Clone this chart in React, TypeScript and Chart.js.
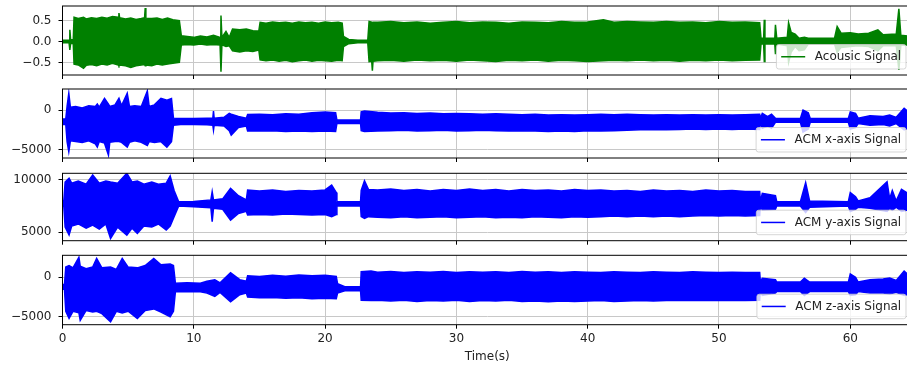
import React, { useEffect, useRef } from 'react';
import { Chart, registerables } from 'chart.js';

Chart.register(...registerables);

const FONT = "'DejaVu Sans', sans-serif";
const TEXT_COLOR = '#222222';
const GRID_COLOR = '#c8c8c8';
const CANVAS_W = 913;
const X_MAX = 64.7;
const X_TICKS = [0, 10, 20, 30, 40, 50, 60];

// ---------- Tick labels per panel ----------
const AC_Y_TICKS = [-0.5, 0, 0.5];
const AX_Y_TICKS = [-5000, 0];
const AY_Y_TICKS = [5000, 10000];
const AZ_Y_TICKS = [-5000, 0];

// ---------- Acoustic signal envelope (time s, upper, lower) ----------
const AC_T = [0, 0.5, 0.56, 0.62, 0.82, 0.88, 1.2, 1.6, 1.8, 2.2, 2.6, 3.0, 3.4, 3.8, 4.25, 4.3, 4.35, 4.8, 5.2, 5.6, 6.0, 6.25, 6.3, 6.35, 6.8, 7.2, 7.6, 8.0, 8.4, 8.9, 9.05, 9.5, 10.0, 10.5, 11.0, 11.5, 12.0, 12.07, 12.14, 12.45, 12.7, 12.95, 13.5, 14.0, 14.5, 14.95, 15.05, 15.5, 16, 16.5, 17, 17.5, 18, 18.5, 19, 19.5, 20, 20.5, 21, 21.3, 21.4, 21.8, 22.5, 23.25, 23.35, 23.55, 23.6, 23.65, 24, 25, 26, 27, 28, 29, 30, 31, 32, 33, 34, 35, 36, 37, 38, 39, 40, 41.2, 42, 43, 44, 45, 46, 47, 48, 49, 50, 51, 52, 53.1, 53.2, 53.4, 53.45, 53.5, 54.25, 54.3, 54.4, 55.2, 55.3, 55.5, 55.8, 56.1, 56.5, 56.8, 58.8, 59.0, 59.3, 60.0, 60.6, 61.4, 62.1, 62.5, 63.5, 63.7, 63.85, 64.7];
const AC_HI = [0.03, 0.03, 0.28, 0.04, 0.04, 0.58, 0.55, 0.58, 0.54, 0.57, 0.55, 0.58, 0.56, 0.6, 0.58, 0.68, 0.57, 0.54, 0.56, 0.53, 0.55, 0.57, 0.8, 0.56, 0.55, 0.56, 0.53, 0.56, 0.52, 0.5, 0.14, 0.12, 0.1, 0.13, 0.11, 0.15, 0.1, 0.62, 0.1, 0.24, 0.1, 0.3, 0.28, 0.3, 0.26, 0.25, 0.46, 0.44, 0.47, 0.45, 0.46, 0.44, 0.47, 0.45, 0.46, 0.44, 0.47, 0.45, 0.46, 0.44, 0.12, 0.05, 0.03, 0.03, 0.48, 0.46, 0.45, 0.46, 0.46, 0.48, 0.45, 0.47, 0.44, 0.46, 0.48, 0.45, 0.47, 0.46, 0.44, 0.47, 0.46, 0.45, 0.48, 0.46, 0.47, 0.52, 0.46, 0.48, 0.47, 0.46, 0.48, 0.46, 0.47, 0.45, 0.48, 0.46, 0.47, 0.45, 0.08, 0.08, 0.52, 0.08, 0.08, 0.4, 0.08, 0.1, 0.45, 0.22, 0.18, 0.08, 0.1, 0.08, 0.08, 0.36, 0.2, 0.21, 0.18, 0.2, 0.28, 0.16, 0.18, 0.78, 0.15, 0.12];
const AC_LO = [-0.03, -0.03, -0.2, -0.04, -0.05, -0.54, -0.56, -0.64, -0.57, -0.55, -0.58, -0.54, -0.56, -0.52, -0.56, -0.58, -0.56, -0.58, -0.62, -0.58, -0.56, -0.55, -0.58, -0.56, -0.58, -0.54, -0.56, -0.54, -0.52, -0.5, -0.08, -0.07, -0.08, -0.06, -0.08, -0.07, -0.08, -0.72, -0.08, -0.12, -0.1, -0.22, -0.25, -0.22, -0.24, -0.2, -0.44, -0.46, -0.44, -0.47, -0.45, -0.48, -0.46, -0.44, -0.47, -0.45, -0.46, -0.47, -0.45, -0.46, -0.12, -0.05, -0.03, -0.03, -0.48, -0.47, -0.7, -0.47, -0.46, -0.45, -0.47, -0.44, -0.46, -0.45, -0.47, -0.44, -0.46, -0.48, -0.45, -0.46, -0.44, -0.47, -0.45, -0.46, -0.48, -0.46, -0.45, -0.46, -0.44, -0.46, -0.45, -0.47, -0.45, -0.46, -0.44, -0.46, -0.45, -0.44, -0.06, -0.06, -0.48, -0.06, -0.06, -0.3, -0.06, -0.1, -0.5, -0.25, -0.12, -0.22, -0.2, -0.06, -0.06, -0.26, -0.14, -0.12, -0.1, -0.12, -0.22, -0.1, -0.1, -0.68, -0.08, -0.08];

// ---------- ACM x-axis envelope ----------
const AX_T = [0, 0.25, 0.35, 0.48, 0.6, 1.0, 1.5, 2.0, 2.5, 2.65, 2.8, 3.2, 3.5, 3.6, 4.0, 4.3, 4.5, 4.93, 5.1, 5.5, 6.0, 6.46, 6.6, 7.0, 7.5, 7.95, 8.3, 8.45, 9.0, 10.0, 11.0, 11.45, 11.5, 11.55, 12.3, 12.7, 12.85, 13.4, 14.0, 14.1, 15, 16, 17, 18, 19, 20, 20.8, 20.9, 22.7, 22.75, 23.0, 24, 25, 26, 27, 28, 29, 30, 31, 32, 33, 34, 35, 36, 37, 38, 39, 40, 41, 42, 43, 44, 45, 46, 47, 48, 49, 50, 51, 52, 53.1, 53.15, 53.3, 53.7, 54.0, 54.3, 56.2, 56.4, 56.8, 56.95, 59.85, 60.0, 60.4, 60.6, 61.5, 62.5, 63.0, 63.5, 64.1, 64.5, 64.7];
const AX_HI = [-1100, -1100, 500, 2180, 400, 500, 300, 600, 500, 800, 400, 1540, 800, 500, 700, 1540, 600, 2180, 500, 600, 500, 2470, 500, 700, 1540, 1300, 1500, -1000, -1050, -1050, -1000, -1000, -90, -1000, -900, -390, -500, -800, -1000, -520, -500, -550, -450, -500, -300, -200, -300, -1240, -1240, -200, -90, -250, -350, -300, -400, -350, -450, -400, -450, -500, -450, -500, -550, -500, -600, -550, -600, -550, -500, -550, -500, -550, -600, -550, -600, -550, -600, -550, -600, -550, -500, -1030, -400, -800, -500, -1030, -1030, 40, -300, -1030, -1030, -200, -400, -1000, -700, -800, -600, -900, 260, -300, -400];
const AX_LO = [-1800, -1800, -4000, -5300, -3900, -4000, -4100, -3900, -4300, -4700, -4000, -4200, -5730, -4100, -4000, -4000, -4100, -4700, -4100, -3900, -4100, -4500, -4000, -4100, -4000, -4700, -4000, -1900, -1800, -1800, -1850, -1900, -2530, -1900, -2000, -2600, -3170, -2200, -2000, -2650, -2650, -2600, -2700, -2650, -2700, -2650, -2700, -1670, -1670, -2600, -2700, -2650, -2600, -2550, -2650, -2600, -2550, -2650, -2600, -2550, -2600, -2650, -2600, -2650, -2700, -2650, -2700, -2600, -2650, -2600, -2550, -2500, -2450, -2500, -2450, -2400, -2450, -2400, -2450, -2400, -2450, -1540, -2300, -2000, -2300, -1540, -1540, -2800, -2400, -1540, -1540, -2400, -2200, -1700, -1900, -1800, -2000, -1700, -2500, -2200, -2100];

// ---------- ACM y-axis envelope ----------
const AY_T = [0, 0.1, 0.2, 0.5, 0.7, 1.2, 1.8, 2.3, 2.8, 3.3, 3.66, 4.2, 4.9, 5.3, 5.7, 6.2, 6.8, 7.3, 7.9, 8.2, 8.5, 8.85, 10.0, 11.3, 11.4, 11.5, 12.2, 12.8, 13.4, 14.0, 14.1, 15, 16, 17, 18, 19, 20, 20.5, 20.85, 20.9, 22.7, 22.75, 23.0, 23.3, 24, 25, 26, 27, 28, 29, 30, 31, 32, 33, 34, 35, 36, 37, 38, 39, 40, 41, 42, 43, 44, 45, 46, 47, 48, 49, 50, 51, 52, 53.1, 53.15, 53.3, 54.3, 54.4, 56.2, 56.6, 56.9, 59.85, 60.0, 60.4, 60.6, 61.5, 62.8, 63.0, 63.2, 63.5, 63.9, 64.3, 64.7];
const AY_HI = [8000, 8000, 9800, 10160, 9700, 9900, 9600, 10480, 9700, 9900, 9800, 9700, 10640, 9800, 9900, 9600, 9800, 9600, 9700, 10380, 9000, 7930, 7950, 8100, 8880, 8100, 8200, 9200, 8500, 8100, 9040, 8950, 9050, 8900, 9000, 8950, 9050, 9520, 8800, 7930, 7930, 9000, 9930, 9100, 9050, 9150, 9000, 9100, 8950, 9100, 9000, 9150, 9000, 9100, 8950, 9100, 9000, 9050, 8950, 9100, 9000, 9050, 8950, 9000, 8900, 9050, 8950, 9000, 8900, 9050, 8950, 9000, 8900, 8900, 7930, 8730, 8500, 7930, 7930, 9740, 8000, 7930, 8800, 8400, 8000, 8300, 9840, 8200, 9000, 8000, 9100, 8800, 8500];
const AY_LO = [7500, 7500, 5500, 4740, 5600, 5800, 5400, 5700, 5300, 5800, 4420, 5500, 4740, 5400, 4900, 5600, 5500, 5800, 5220, 5600, 6500, 7510, 7450, 7350, 6010, 7300, 7200, 6170, 6800, 7000, 6650, 6700, 6650, 6750, 6700, 6650, 6700, 6500, 6700, 7510, 7510, 6500, 6340, 6500, 6450, 6400, 6500, 6400, 6450, 6500, 6400, 6450, 6500, 6400, 6450, 6400, 6500, 6450, 6400, 6500, 6450, 6500, 6550, 6500, 6550, 6500, 6550, 6500, 6550, 6600, 6550, 6600, 6550, 6600, 7510, 7130, 7200, 7510, 7510, 6900, 7400, 7510, 7000, 7200, 7400, 7300, 7000, 7300, 7100, 7400, 7000, 7100, 7200];

// ---------- ACM z-axis envelope ----------
const AZ_T = [0, 0.15, 0.25, 0.5, 0.8, 1.25, 1.35, 1.8, 2.3, 2.6, 3.0, 3.66, 4.1, 4.55, 5.0, 5.7, 6.3, 6.95, 7.5, 8.2, 8.45, 8.6, 9.5, 10.5, 11.0, 11.6, 12.0, 12.8, 13.5, 14.0, 14.1, 15, 16, 17, 18, 19, 20, 20.85, 20.95, 21.5, 22.7, 22.75, 23.5, 24, 25, 26, 27, 28, 29, 30, 31, 32, 33, 34, 35, 36, 37, 38, 39, 40, 41, 42, 43, 44, 45, 46, 47, 48, 49, 50, 51, 52, 53.1, 53.15, 53.3, 54.3, 54.4, 56.2, 56.5, 56.9, 59.85, 60.0, 60.4, 60.6, 61.5, 62.5, 63.0, 63.5, 64.1, 64.5, 64.7];
const AZ_HI = [-900, -900, 1300, 1500, 1200, 2540, 1400, 1100, 1300, 2400, 1200, 1300, 1000, 2400, 1300, 1200, 1500, 2400, 1600, 1700, 1500, -760, -700, -760, -500, -300, -700, 580, -300, -500, 200, 100, 250, 150, 300, 200, 250, 100, -800, -1190, -1190, 700, 800, 650, 750, 600, 700, 650, 750, 600, 700, 650, 700, 600, 750, 650, 700, 600, 700, 650, 600, 700, 650, 600, 700, 650, 600, 700, 650, 600, 650, 600, 600, -500, -130, -300, -600, -600, -100, -600, -600, 420, 0, -600, -300, -200, -100, -400, 800, 200, -100];
const AZ_LO = [-1500, -1500, -4300, -5200, -4300, -4500, -5460, -4200, -4400, -4300, -4600, -5630, -4300, -4500, -4300, -5200, -4200, -4000, -4400, -5000, -4300, -1830, -1800, -1830, -2000, -2400, -1900, -3100, -2200, -2000, -2500, -2600, -2550, -2650, -2600, -2700, -2650, -2700, -2000, -1700, -1700, -2900, -2950, -2900, -3000, -2900, -3050, -2950, -3000, -2900, -3050, -2950, -3000, -2900, -3050, -3000, -3100, -3000, -3050, -3000, -2950, -3050, -3000, -2950, -3000, -2950, -2900, -2950, -2900, -2950, -2900, -2950, -2900, -1600, -2300, -2000, -1800, -1800, -2300, -1800, -1800, -2300, -2200, -1800, -2000, -2000, -2100, -1900, -2300, -2100, -2000];

type PanelCfg = {
  label: string;
  color: string;
  t: number[];
  hi: number[];
  lo: number[];
  yTicks: number[];
  top: number;
  height: number;
  areaTop: number;
  areaBottom: number;
  yMin: number;
  yMax: number;
  decimals: number;
  showX: boolean;
};

const PANELS: PanelCfg[] = [
  { label: 'Acousic Signal', color: '#008000', t: AC_T, hi: AC_HI, lo: AC_LO, yTicks: AC_Y_TICKS, top: 0, height: 85, areaTop: 6, areaBottom: 75, yMin: -0.8, yMax: 0.85, decimals: 1, showX: false },
  { label: 'ACM x-axis Signal', color: '#0000ff', t: AX_T, hi: AX_HI, lo: AX_LO, yTicks: AX_Y_TICKS, top: 85, height: 85, areaTop: 89, areaBottom: 158, yMin: -6100, yMax: 2730, decimals: 0, showX: false },
  { label: 'ACM y-axis Signal', color: '#0000ff', t: AY_T, hi: AY_HI, lo: AY_LO, yTicks: AY_Y_TICKS, top: 170, height: 80, areaTop: 173.3, areaBottom: 240.7, yMin: 4200, yMax: 10640, decimals: 0, showX: false },
  { label: 'ACM z-axis Signal', color: '#0000ff', t: AZ_T, hi: AZ_HI, lo: AZ_LO, yTicks: AZ_Y_TICKS, top: 250, height: 120, areaTop: 255.3, areaBottom: 324.7, yMin: -6000, yMax: 2790, decimals: 0, showX: true },
];

const fmt = (v: number, d: number) => {
  const s = Math.abs(v).toFixed(d);
  return v < 0 && Math.abs(v) > 1e-9 ? '\u2212' + s : s;
};

const legendFrame = {
  id: 'legendFrame',
  afterDatasetsDraw(chart: any) {
    const { ctx, chartArea: a } = chart;
    const ds = chart.data.datasets[0];
    const fs = 12;
    ctx.save();
    ctx.font = `${fs}px ${FONT}`;
    const tw = ctx.measureText(ds.label).width;
    const pad = 0.4 * fs;
    const hl = 2 * fs;
    const htp = 0.8 * fs;
    const bap = 0.5 * fs;
    const w = pad + hl + htp + tw + pad;
    const h = 24.5;
    const x0 = a.right - bap - w;
    const y0 = a.bottom - bap - h;
    ctx.beginPath();
    (ctx as any).roundRect(x0, y0, w, h, 2.4);
    ctx.fillStyle = 'rgba(255,255,255,0.8)';
    ctx.fill();
    ctx.strokeStyle = 'rgba(204,204,204,0.8)';
    ctx.lineWidth = 1;
    ctx.stroke();
    const cy = y0 + h / 2;
    ctx.beginPath();
    ctx.moveTo(x0 + pad, cy);
    ctx.lineTo(x0 + pad + hl, cy);
    ctx.strokeStyle = ds.borderColor;
    ctx.lineWidth = 1.5;
    ctx.stroke();
    ctx.fillStyle = TEXT_COLOR;
    ctx.textBaseline = 'middle';
    ctx.textAlign = 'left';
    ctx.fillText(ds.label, x0 + pad + hl + htp, cy + 0.5);
    ctx.restore();
  },
  afterDraw(chart: any) {
    const { ctx, chartArea: a } = chart;
    ctx.save();
    ctx.strokeStyle = '#000000';
    ctx.lineWidth = 1;
    ctx.strokeRect(a.left, a.top, a.right - a.left, a.bottom - a.top);
    ctx.restore();
  },
};

function buildConfig(p: PanelCfg): any {
  const hiPts = p.t.map((x, i) => ({ x, y: p.hi[i] }));
  const loPts = p.t.map((x, i) => ({ x, y: p.lo[i] }));
  const xAxisH = p.top + p.height - p.areaBottom;
  const tickFont = { family: FONT, size: 12 };
  const zeroPad = (s: any) => {
    s.paddingLeft = 0;
    s.paddingRight = 0;
    s.paddingTop = 0;
    s.paddingBottom = 0;
  };
  return {
    type: 'line',
    data: {
      datasets: [
        { label: p.label, data: hiPts, borderColor: p.color, backgroundColor: p.color, borderWidth: 1.5, pointRadius: 0, fill: false, tension: 0 },
        { label: '_lo', data: loPts, borderColor: p.color, backgroundColor: p.color, borderWidth: 1.5, pointRadius: 0, fill: '-1', tension: 0 },
      ],
    },
    options: {
      animation: false,
      responsive: false,
      maintainAspectRatio: false,
      events: [],
      layout: { padding: { top: p.areaTop - p.top, bottom: 0, left: 0, right: 1 } },
      plugins: { legend: { display: false }, tooltip: { enabled: false } },
      scales: {
        x: {
          type: 'linear',
          min: 0,
          max: X_MAX,
          afterBuildTicks: (s: any) => {
            s.ticks = X_TICKS.map((v) => ({ value: v }));
          },
          afterFit: (s: any) => {
            s.height = xAxisH;
            zeroPad(s);
          },
          ticks: {
            display: p.showX,
            maxRotation: 0,
            autoSkip: false,
            font: tickFont,
            color: TEXT_COLOR,
            padding: 3,
            callback: (v: number) => String(v),
          },
          grid: { color: GRID_COLOR, lineWidth: 1, tickColor: '#000000', tickLength: 4, drawTicks: true },
          border: { display: false },
          title: { display: p.showX, text: 'Time(s)', font: { family: FONT, size: 12 }, color: TEXT_COLOR, padding: { top: 2, bottom: 6 } },
        },
        y: {
          type: 'linear',
          min: p.yMin,
          max: p.yMax,
          afterBuildTicks: (s: any) => {
            s.ticks = p.yTicks.map((v) => ({ value: v }));
          },
          afterFit: (s: any) => {
            s.width = 62.5;
            zeroPad(s);
          },
          ticks: {
            autoSkip: false,
            font: tickFont,
            color: TEXT_COLOR,
            padding: 7,
            callback: (v: number) => fmt(v, p.decimals),
          },
          grid: { color: GRID_COLOR, lineWidth: 1, tickColor: '#000000', tickLength: 4, drawTicks: true },
          border: { display: false },
        },
      },
    },
    plugins: [legendFrame],
  };
}

function Panel({ cfg }: { cfg: PanelCfg }) {
  const ref = useRef<HTMLCanvasElement>(null);
  useEffect(() => {
    const canvas = ref.current;
    if (!canvas) return;
    const chart = new Chart(canvas, buildConfig(cfg));
    return () => chart.destroy();
  }, [cfg]);
  return (
    <canvas
      ref={ref}
      width={CANVAS_W}
      height={cfg.height}
      style={{ position: 'absolute', left: 0, top: cfg.top, width: CANVAS_W, height: cfg.height, display: 'block' }}
    />
  );
}

export default function App() {
  return (
    <div style={{ position: 'fixed', left: 0, top: 0, width: 907, height: 370, overflow: 'hidden', background: '#ffffff' }}>
      {PANELS.map((p) => (
        <Panel key={p.label} cfg={p} />
      ))}
    </div>
  );
}
